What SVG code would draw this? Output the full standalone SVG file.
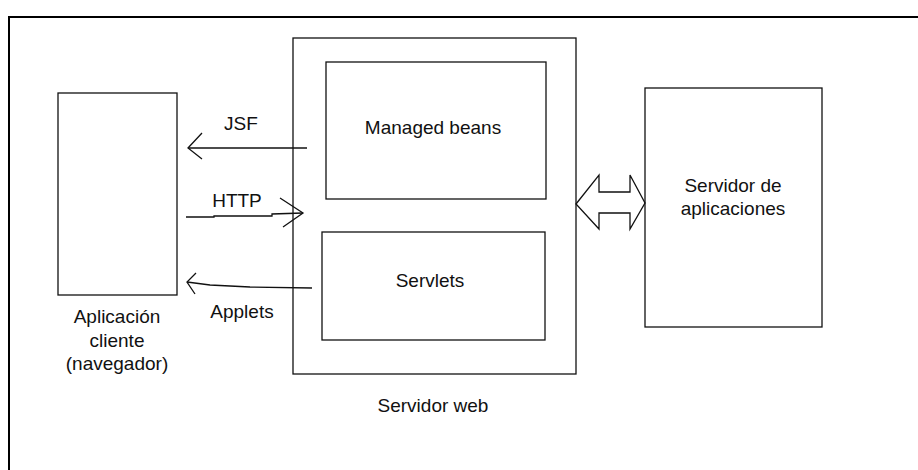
<svg xmlns="http://www.w3.org/2000/svg" width="918" height="470" viewBox="0 0 918 470">
<style>
.box{fill:#fff;stroke:#111;stroke-width:1.3}
.ln{fill:none;stroke:#111;stroke-width:1.3;stroke-linejoin:miter}
text{font-family:"Liberation Sans",Arial,sans-serif;font-size:19px;fill:#111;text-anchor:middle}
</style>
<rect x="0" y="0" width="918" height="470" fill="#fff"/>
<path d="M9,470 V17 H918" fill="none" stroke="#000" stroke-width="2"/>
<g id="cliente">
<rect class="box" x="58" y="93" width="119" height="202"/>
<text x="117" y="323">Aplicación</text>
<text x="117" y="347">cliente</text>
<text x="117" y="370">(navegador)</text>
</g>
<g id="servidor-web">
<rect class="box" x="293" y="38" width="283" height="336"/>
<text x="433" y="412">Servidor web</text>
</g>
<g id="managed-beans">
<rect class="box" x="326" y="62" width="220" height="137"/>
<text x="433" y="134">Managed beans</text>
</g>
<g id="servlets">
<rect class="box" x="322" y="232" width="223" height="108"/>
<text x="430" y="287">Servlets</text>
</g>
<g id="servidor-aplicaciones">
<rect class="box" x="645" y="88" width="177" height="239"/>
<text x="733" y="192">Servidor de</text>
<text x="733" y="215">aplicaciones</text>
</g>
<g id="connectors">
<polyline class="ln" points="307,148 188,148"/>
<polyline class="ln" points="202,133 188,148 202,159"/>
<text x="241" y="130">JSF</text>
<polyline class="ln" points="186,217 214,217 214,216 272,216 272,214 303,213"/>
<polyline class="ln" points="280,198 303,213 283,227"/>
<text x="237" y="207">HTTP</text>
<polyline class="ln" points="312,288 250,287 210,285 187,282"/>
<polyline class="ln" points="196,273 187,282 195,294"/>
<text x="242" y="318">Applets</text>
<polygon class="ln" points="576,204 599,175 599,192 630,192 630,175 645,203 630,229 630,213 599,213 599,229"/>
</g>
</svg>
